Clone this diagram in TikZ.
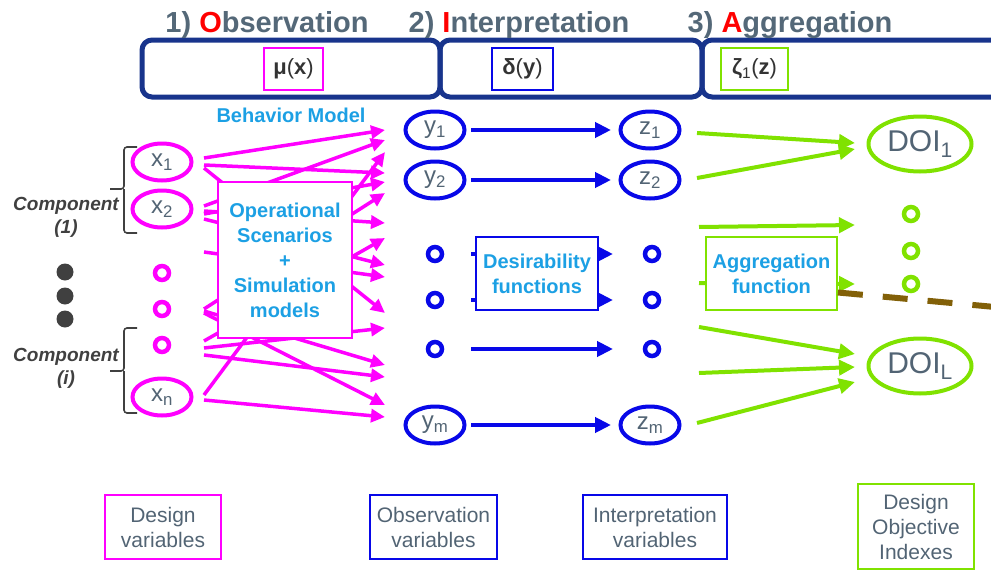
\documentclass[tikz,border=0pt]{standalone}
\usepackage{fontspec}
\setmainfont{Liberation Sans}
\usepackage{xcolor}
\usepackage{tikz}
\usetikzlibrary{arrows.meta,positioning,calc,shapes.geometric}
\definecolor{dmag}{RGB}{255,0,255}
\definecolor{dblue}{RGB}{8,8,232}
\definecolor{dgreen}{RGB}{128,226,0}
\definecolor{dnavy}{RGB}{24,52,140}
\definecolor{dcyan}{RGB}{28,160,228}
\definecolor{dslate}{RGB}{82,100,116}
\definecolor{dhead}{RGB}{84,104,120}
\definecolor{dbrown}{RGB}{130,96,8}
\definecolor{dgrey}{RGB}{64,64,64}
\tikzset{
  varell/.style={ellipse, line width=4pt, inner sep=0pt, minimum width=59pt, minimum height=37pt, text=dslate, font=\fontsize{24}{24}\selectfont},
  xvar/.style={varell, draw=dmag},
  yvar/.style={varell, draw=dblue},
  doivar/.style={varell, draw=dgreen, minimum width=103pt, minimum height=55pt, font=\fontsize{30}{30}\selectfont},
  ring/.style={circle, line width=4.5pt, minimum size=14pt, inner sep=0pt},
  pdot/.style={ring, draw=dmag},
  bdot/.style={ring, draw=dblue},
  gdot/.style={ring, draw=dgreen},
  bullet/.style={circle, fill=dgrey, minimum size=17pt, inner sep=0pt},
  stage/.style={anchor=base, text=dhead, font=\fontsize{29}{29}\selectfont\bfseries},
  hdrbox/.style={draw=dnavy, line width=5pt, rounded corners=10pt},
  fnbox/.style={line width=1.5pt, minimum height=42pt, inner sep=0pt, text=black!80, font=\fontsize{22}{22}\selectfont},
  funbox/.style={fill=white, line width=1.8pt, inner sep=0pt, align=center, text=dcyan, font=\fontsize{20}{25}\selectfont\bfseries},
  lbl/.style={line width=2pt, inner sep=0pt, align=center, text=dslate, font=\fontsize{21}{25}\selectfont},
  comp/.style={align=center, text=dgrey, font=\fontsize{19}{23}\selectfont\bfseries\itshape},
  brc/.style={draw=dgrey, line width=1.6pt, rounded corners=3pt},
  parr/.style={-{Triangle[length=14pt,width=13pt]}, dmag, line width=3.5pt},
  barr/.style={-{Triangle[length=16pt,width=15pt]}, dblue, line width=4.5pt},
  garr/.style={-{Triangle[length=16pt,width=15pt]}, dgreen, line width=4pt},
  cutline/.style={dbrown, line width=6pt, dash pattern=on 25pt off 20pt},
}
\begin{document}
\begin{tikzpicture}[x=1pt, y=-1pt]
  \useasboundingbox (0,0) rectangle (991,570);
  % header: three steps
  \draw[hdrbox] (142,40) rectangle (440,97);
  \draw[hdrbox] (440,40) rectangle (702,97);
  \draw[hdrbox] (702,40) rectangle (1010,97);
  \node[stage] (obs) at (267,32) {1) \textcolor{red}{O}bservation};
  \node[stage] (int) at (519,32) {2) \textcolor{red}{I}nterpretation};
  \node[stage] (agg) at (790,32) {3) \textcolor{red}{A}ggregation};
  \node[fnbox, draw=dmag, minimum width=59pt] (mu) at (293.5,69) {\textbf{μ}(\textbf{x})};
  \node[fnbox, draw=dblue, minimum width=61pt] (delta) at (522.5,69) {\textbf{δ}(\textbf{y})};
  \node[fnbox, draw=dgreen, minimum width=67pt] (zeta) at (754.5,69) {\textbf{ζ}\textsubscript{1}(\textbf{z})};

  % design variables
  \node[xvar] (x1) at (162,162) {x\textsubscript{1}};
  \node[xvar] (x2) at (162,209) {x\textsubscript{2}};
  \node[pdot] (xd1) at (162,273) {};
  \node[pdot] (xd2) at (162,309) {};
  \node[pdot] (xd3) at (162,345) {};
  \node[xvar] (xn) at (162,397) {x\textsubscript{n}};
  \foreach \i/\yy in {1/272,2/296,3/319}
    \node[bullet] (b\i) at (65,\yy) {};
  \node[comp] (comp1) at (66,217) {Component\\(1)};
  \node[comp] (compi) at (66,368) {Component\\(i)};
  \draw[brc] (137,147) -- (124,147) -- (124,189) -- (110,189) (124,189) -- (124,233) -- (137,233);
  \draw[brc] (137,328) -- (124,328) -- (124,371) -- (110,371) (124,371) -- (124,413) -- (137,413);
  \node[text=dcyan, font=\fontsize{20}{20}\selectfont\bfseries] (bm) at (291,115) {Behavior Model};

  % observation and interpretation variables
  \node[yvar] (y1) at (435,130) {y\textsubscript{1}};
  \node[yvar] (y2) at (435,180) {y\textsubscript{2}};
  \node[bdot] (yd1) at (435,254) {};
  \node[bdot] (yd2) at (435,300) {};
  \node[bdot] (yd3) at (435,349) {};
  \node[yvar] (ym) at (435,425) {y\textsubscript{m}};
  \node[yvar] (z1) at (650,130) {z\textsubscript{1}};
  \node[yvar] (z2) at (650,180) {z\textsubscript{2}};
  \node[bdot] (zd1) at (652,254) {};
  \node[bdot] (zd2) at (652,300) {};
  \node[bdot] (zd3) at (652,349) {};
  \node[yvar] (zm) at (650,425) {z\textsubscript{m}};

  % design objective indexes
  \node[doivar] (doi1) at (920,144) {DOI\textsubscript{1}};
  \foreach \i/\yy in {1/214,2/251,3/284}
    \node[gdot] (g\i) at (911,\yy) {};
  \node[doivar] (doil) at (920,366) {DOI\textsubscript{L}};

  % behavior model arrows
  \foreach \s/\sy/\d/\dy in {x1/-4/y1/0, x2/-3/y1/10, xn/-2/y1/22, x1/3/y2/-7, x2/5/y2/2, xd2/0/y2/13,
      x2/2/yd1/-31, xd3/-4/yd1/-16, x2/10/yd1/11, xd1/-21/yd1/23, x1/6/yd2/13, xd3/3/yd2/28,
      xd2/2/yd3/16, xd3/10/yd3/28, xd2/4/ym/-20, xn/3/ym/-8}
    \draw[parr] ($(\s)+(42,\sy)$) -- ($(\d)+(-50,\dy)$);
  % desirability arrows
  \foreach \a/\b in {y1/z1,y2/z2,yd1/zd1,yd2/zd2,yd3/zd3,ym/zm}
    \draw[barr] ($(\a)+(36,0)$) -- ($(\b)+(-39,0)$);
  % aggregation arrows
  \foreach \s/\sy/\d/\dx/\dy in {z1/3/doi1/-65/-1, z2/-2/doi1/-65/5, zd1/-27/g1/-56/11, zd2/-17/g3/-56/0,
      zd3/-22/doil/-65/-12, zd3/24/doil/-65/1, zm/-2/doil/-65/16}
    \draw[garr] ($(\s)+(47,\sy)$) -- ($(\d)+(\dx,\dy)$);

  % function boxes on top
  \node[funbox, draw=dmag, minimum width=134pt, minimum height=156pt] (ops) at (285,260) {Operational\\Scenarios\\+\\Simulation\\models};
  \node[funbox, draw=dblue, minimum width=122pt, minimum height=73pt] (des) at (537,273.5) {Desirability\\functions};
  \node[funbox, draw=dgreen, minimum width=131pt, minimum height=73pt] (aggf) at (771.5,273.5) {Aggregation\\function};
  \coordinate (cut) at (995,307);
  \draw[cutline] ($(aggf.east)+(0,19)$) -- (cut);

  % legend
  \node[lbl, draw=dmag, minimum width=116pt, minimum height=64pt] (lx) at (163,527) {Design\\variables};
  \node[lbl, draw=dblue, minimum width=127pt, minimum height=64pt] (ly) at (433.5,527) {Observation\\variables};
  \node[lbl, draw=dblue, minimum width=144pt, minimum height=64pt] (lz) at (655,527) {Interpretation\\variables};
  \node[lbl, draw=dgreen, minimum width=116pt, minimum height=85pt] (ld) at (916,526.5) {Design\\Objective\\Indexes};
\end{tikzpicture}
\end{document}
